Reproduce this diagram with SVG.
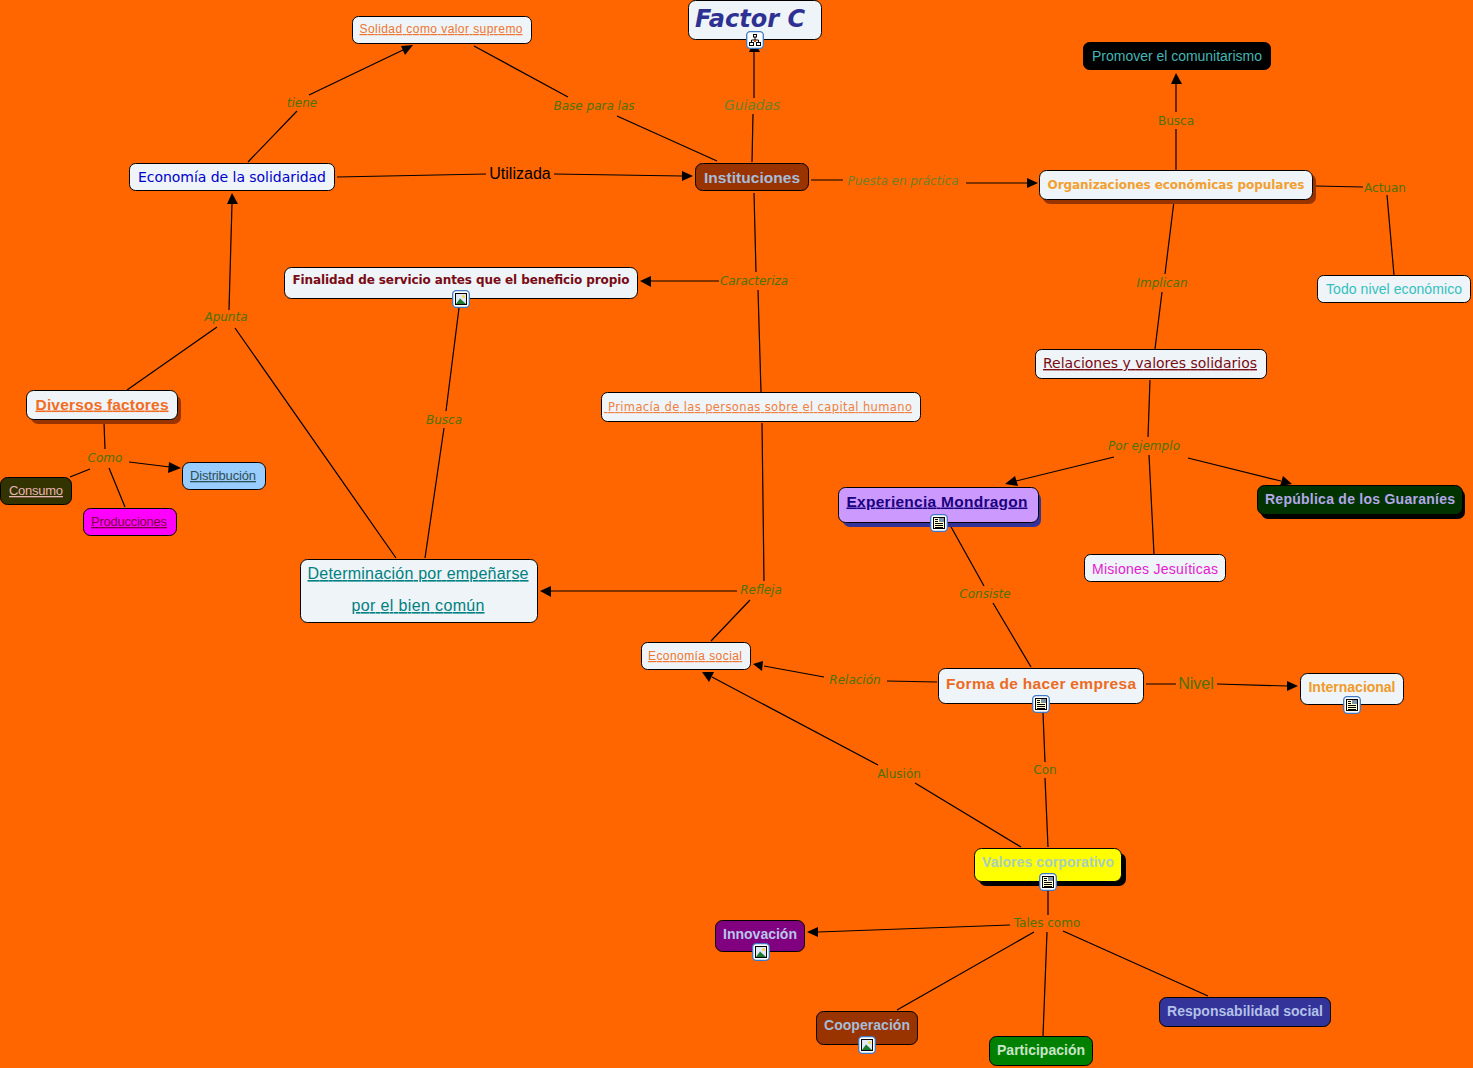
<svg xmlns="http://www.w3.org/2000/svg" width="1473" height="1068" viewBox="0 0 1473 1068">
<style>
text{font-family:"DejaVu Sans",Verdana,sans-serif;text-anchor:middle}
.n{stroke:#000;stroke-width:1}
.l{fill:#4a7300;font-size:12px}
.i{font-style:italic}
.a{font-family:"Liberation Sans",Arial,sans-serif}
.b{font-weight:bold}
.u{text-decoration:underline}
#connectors path{fill:none;stroke:#000;stroke-width:1.2}
#connectors polygon{fill:#000}
</style>
<defs>
<g id="ic-base"><rect x="0.700" y="0.700" width="16.600" height="16.600" rx="3.500" fill="#fff" stroke="#3f78c4" stroke-width="1.300"/></g>
<g id="doc"><use href="#ic-base"/><rect x="3.500" y="3.500" width="11" height="11" fill="#ffffd0" stroke="#000" stroke-width="1"/><path d="M5 5.500h3M5 7.500h3M5 9.500h8M5 11.500h8M5 13.500h8" stroke="#000" stroke-width="1" fill="none"/><rect x="9" y="4" width="5" height="4" fill="#7f93a8"/></g>
<g id="pic"><use href="#ic-base"/><rect x="3.500" y="3.500" width="11" height="11" fill="#dfe9f8" stroke="#000" stroke-width="1"/><path d="M4 14L8 8.500l6 5.500z" fill="#1f7a30"/><circle cx="11.500" cy="6.500" r="1.500" fill="#f4dc40"/></g>
<g id="map"><use href="#ic-base"/><path d="M9 6v3M5.500 11.500V9h7v2.500" stroke="#000" fill="none" stroke-width="1"/><rect x="7.500" y="3.500" width="3" height="2.500" fill="#fff" stroke="#000" stroke-width="1"/><rect x="3.500" y="11.500" width="4" height="3" fill="#fff" stroke="#000" stroke-width="1"/><rect x="10.500" y="11.500" width="4" height="3" fill="#fff" stroke="#000" stroke-width="1"/><rect x="8" y="9" width="2" height="2" fill="#c05020"/></g>
</defs>
<rect width="1473" height="1068" fill="#ff6600"/>
<g id="connectors">
<path d="M754 52V98M753 114L752 162"/><polygon points="754,41 749,52 760,52"/>
<path d="M248 162L297 111M309 95L403 50"/><polygon points="413,45 401,46 405,55"/>
<path d="M474 46L568 97M617 116L717 161"/>
<path d="M337 177L486 174M554 174L682 176"/><polygon points="693,176 682,171 682,181"/>
<path d="M811 180H843M966 183H1027"/><polygon points="1038,183 1027,178 1027,188"/>
<path d="M1176 170V129M1176 112V83"/><polygon points="1176,73 1171,84 1182,84"/>
<path d="M1316 186L1363 187M1387 195L1394 275"/>
<path d="M1174 201L1165 274M1162 292L1155 349"/>
<path d="M754 193L756 272M758 290L761 392"/>
<path d="M719 281H650"/><polygon points="640,281 651,276 651,287"/>
<path d="M229 310L232 204"/><polygon points="232,193 227,204 238,204"/>
<path d="M127 390L217 327M235 328L396 558"/>
<path d="M459 308L446 411M444 428L425 558"/>
<path d="M104 423L105 449M90 469L70 477M109 468L125 507M129 462L170 467"/><polygon points="181,468 169,462 168,473"/>
<path d="M762 423L764 581M737 591H550M750 600L711 641"/><polygon points="540,591 551,586 551,597"/>
<path d="M1150 380L1148 437M1149 455L1154 554M1114 457L1016 481M1188 458L1281 481"/><polygon points="1005,484 1015,476 1018,486"/><polygon points="1292,484 1283,476 1280,486"/>
<path d="M950 525L984 586M993 603L1031 667"/>
<path d="M937 682L887 681M824 677L764 666"/><polygon points="753,664 763,661 762,671"/>
<path d="M1146 684H1176M1217 684L1287 686"/><polygon points="1298,686 1287,681 1287,691"/>
<path d="M1043 713L1045 762M1045 778L1048 847"/>
<path d="M1021 847L915 783M878 765L712 677"/><polygon points="702,672 714,672 709,682"/>
<path d="M1048 890V915M1010 925L818 932M1034 932L897 1010M1047 932L1043 1036M1063 931L1208 996"/><polygon points="807,932 818,927 818,937"/>
</g>
<g id="factor-c"><rect class="n" x="688.500" y="0.500" width="133" height="39" rx="7" fill="#eef4f7"/><text x="750" y="27" font-size="24" class="i b" fill="#2e3192" textLength="110">Factor C</text><use href="#map" x="746" y="31"/></g>
<g id="solidad"><rect class="n" x="352.500" y="16.500" width="179" height="27" rx="6" fill="#eef4f7"/><text x="441" y="33" font-size="12" class="a u" fill="#ee7430" textLength="163">Solidad como valor supremo</text></g>
<g id="promover"><rect class="n" x="1083.500" y="42.500" width="187" height="27" rx="6" fill="#000"/><text x="1177" y="61" font-size="14" class="a" fill="#45b5b5" textLength="170">Promover el comunitarismo</text></g>
<g id="economia-solidaridad"><rect class="n" x="129.500" y="163.500" width="205" height="27" rx="6" fill="#eef4f7"/><text x="232" y="182" font-size="14" fill="#0000cc" textLength="188">Economía de la solidaridad</text></g>
<g id="instituciones"><rect class="n" x="695.500" y="163.500" width="113" height="27" rx="7" fill="#993300"/><text x="752" y="183" font-size="15.500" class="a b" fill="#a6bddb" textLength="96">Instituciones</text></g>
<g id="organizaciones"><rect x="1043" y="174" width="273" height="30" rx="7" fill="#993300"/><rect class="n" x="1039.500" y="170.500" width="273" height="29" rx="7" fill="#eef4f7"/><text x="1176" y="189" font-size="12" class="b" fill="#f2a030" textLength="257">Organizaciones económicas populares</text></g>
<g id="finalidad"><rect class="n" x="284.500" y="267.500" width="353" height="31" rx="7" fill="#eef4f7"/><text x="461" y="284" font-size="12" class="b" fill="#7a0a14" textLength="337">Finalidad de servicio antes que el beneficio propio</text><use href="#pic" x="452" y="290"/></g>
<g id="todo-nivel"><rect class="n" x="1317.500" y="275.500" width="153" height="27" rx="6" fill="#eef4f7"/><text x="1394" y="294" font-size="14" class="a" fill="#33c0c0" textLength="136">Todo nivel económico</text></g>
<g id="relaciones"><rect class="n" x="1035.500" y="349.500" width="231" height="29" rx="6" fill="#eef4f7"/><text x="1150" y="368" font-size="14" class="u" fill="#7a0a14" textLength="214">Relaciones y valores solidarios</text></g>
<g id="diversos"><rect x="31" y="395" width="150" height="29" rx="7" fill="#993300"/><rect class="n" x="26.500" y="390.500" width="151" height="29" rx="7" fill="#eef4f7"/><text x="102" y="409.500" font-size="15.500" class="a b u" fill="#f26c22" textLength="133">Diversos factores</text></g>
<g id="primacia"><rect class="n" x="601.500" y="392.500" width="319" height="29" rx="6" fill="#eef4f7"/><text x="758" y="411" font-size="11.500" class="u" fill="#f07f40" textLength="308">&#160;Primacía de las personas sobre el capital humano</text></g>
<g id="distribucion"><rect class="n" x="182.500" y="462.500" width="83" height="27" rx="7" fill="#99ccff"/><text x="223" y="480" font-size="13" class="a u" fill="#2f4f4f" textLength="66">Distribución</text></g>
<g id="consumo"><rect class="n" x="0.500" y="477.500" width="71" height="27" rx="7" fill="#333300"/><text x="36" y="495" font-size="13" class="a u" fill="#e8b4b4" textLength="54">Consumo</text></g>
<g id="producciones"><rect class="n" x="83.500" y="508.500" width="93" height="27" rx="7" fill="#ff00ff"/><text x="129" y="526" font-size="13" class="a u" fill="#800040" textLength="76">Producciones</text></g>
<g id="experiencia"><rect x="843" y="492" width="198" height="35" rx="7" fill="#333399"/><rect class="n" x="838.500" y="487.500" width="200" height="35" rx="7" fill="#cc99ff"/><text x="937" y="506.500" font-size="15.500" class="a b u" fill="#1a0080" textLength="181">Experiencia Mondragon</text><use href="#doc" x="930" y="514"/></g>
<g id="guaranies"><rect x="1261" y="489" width="204" height="30" rx="7" fill="#000"/><rect class="n" x="1257.500" y="485.500" width="205" height="29" rx="7" fill="#003300"/><text x="1360" y="504" font-size="14" class="a b" fill="#b4a7e8" textLength="190">República de los Guaraníes</text></g>
<g id="misiones"><rect class="n" x="1084.500" y="554.500" width="141" height="27" rx="6" fill="#eef4f7"/><text x="1155" y="574" font-size="14" class="a" fill="#e619d0" textLength="126">Misiones Jesuíticas</text></g>
<g id="determinacion"><rect class="n" x="300.500" y="559.500" width="237" height="63" rx="7" fill="#eef4f7"/><text x="418" y="579" font-size="16" class="a u" fill="#008080" textLength="221">Determinación por empeñarse</text><text x="418" y="611" font-size="16" class="a u" fill="#008080" textLength="133">por el bien común</text></g>
<g id="economia-social"><rect class="n" x="641.500" y="642.500" width="109" height="27" rx="6" fill="#eef4f7"/><text x="695" y="660" font-size="12" class="a u" fill="#ee7430" textLength="94">Economía social</text></g>
<g id="forma"><rect class="n" x="938.500" y="668.500" width="205" height="35" rx="7" fill="#eef4f7"/><text x="1041" y="688.500" font-size="15.500" class="a b" fill="#ed6a1f" textLength="190">Forma de hacer empresa</text><use href="#doc" x="1032" y="695"/></g>
<g id="internacional"><rect class="n" x="1300.500" y="673.500" width="103" height="31" rx="7" fill="#eef4f7"/><text x="1352" y="692" font-size="14" class="a b" fill="#f09a2a" textLength="87">Internacional</text><use href="#doc" x="1343" y="696"/></g>
<g id="valores"><rect x="979" y="853" width="147" height="33" rx="7" fill="#000"/><rect class="n" x="974.500" y="848.500" width="147" height="33" rx="7" fill="#ffff00"/><text x="1048" y="867" font-size="14" class="a b" fill="#a8cfc0" textLength="132">Valores corporativo</text><use href="#doc" x="1039" y="873"/></g>
<g id="innovacion"><rect class="n" x="715.500" y="920.500" width="89" height="31" rx="7" fill="#800080"/><text x="760" y="939" font-size="14" class="a b" fill="#b9c5ea" textLength="74">Innovación</text><use href="#pic" x="752" y="943"/></g>
<g id="cooperacion"><rect class="n" x="816.500" y="1011.500" width="101" height="33" rx="7" fill="#993300"/><text x="867" y="1030" font-size="14" class="a b" fill="#a6bddb" textLength="86">Cooperación</text><use href="#pic" x="858" y="1036"/></g>
<g id="participacion"><rect class="n" x="989.500" y="1036.500" width="103" height="29" rx="7" fill="#008000"/><text x="1041" y="1055" font-size="14" class="a b" fill="#c8e6c8" textLength="88">Participación</text></g>
<g id="responsabilidad"><rect class="n" x="1159.500" y="997.500" width="171" height="29" rx="7" fill="#333399"/><text x="1245" y="1016" font-size="14" class="a b" fill="#b4c0e8" textLength="156">Responsabilidad social</text></g>
<g id="labels">
<text class="l i" x="752" y="110" textLength="56" style="font-size:14px;fill:#6f7f28">Guiadas</text>
<text class="l i" x="302" y="107">tiene</text>
<text class="l i" x="594" y="110" textLength="81">Base para las</text>
<text x="520" y="179" font-size="16" class="a" fill="#000">Utilizada</text>
<text class="l i" x="903" y="185" textLength="111" style="fill:#6f7f28">Puesta en práctica</text>
<text class="l" x="1176" y="125">Busca</text>
<text class="l" x="1385" y="192">Actuan</text>
<text class="l i" x="1162" y="287">Implican</text>
<text class="l i" x="754" y="285" textLength="68">Caracteriza</text>
<text class="l i" x="226" y="321">Apunta</text>
<text class="l i" x="444" y="424">Busca</text>
<text class="l i" x="1144" y="450" textLength="72">Por ejemplo</text>
<text class="l i" x="105" y="462">Como</text>
<text class="l i" x="985" y="598">Consiste</text>
<text class="l i" x="761" y="594">Refleja</text>
<text class="l i" x="855" y="684">Relación</text>
<text x="1196" y="689" font-size="16" class="a" fill="#4a7300">Nivel</text>
<text class="l" x="899" y="778">Alusión</text>
<text class="l" x="1045" y="774">Con</text>
<text class="l" x="1047" y="927">Tales como</text>
</g>
</svg>
